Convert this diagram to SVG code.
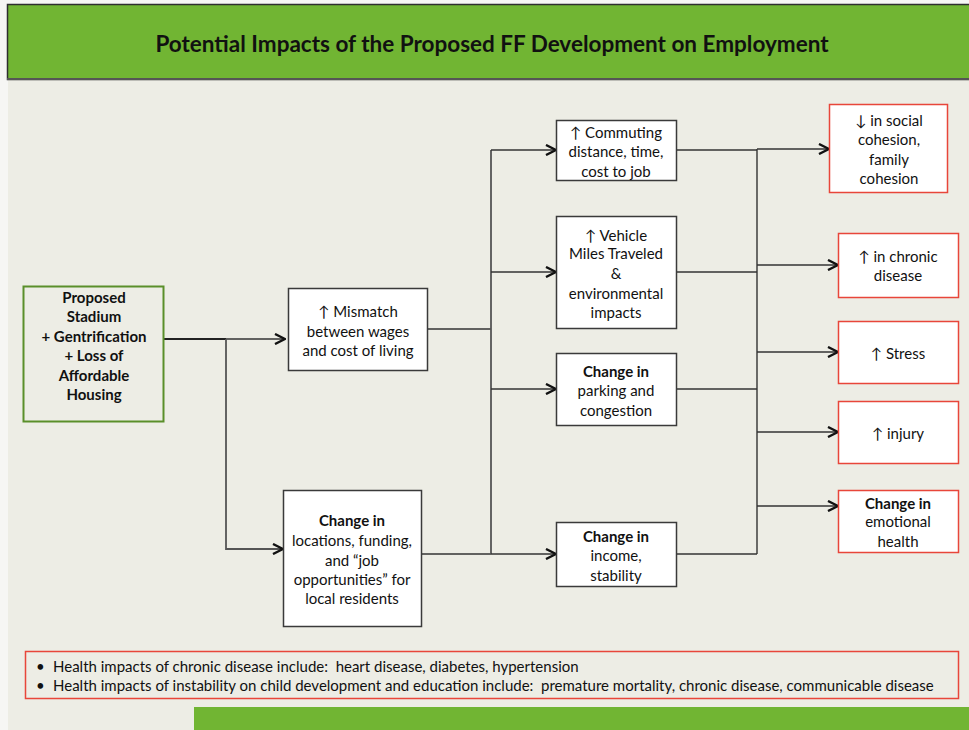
<svg xmlns="http://www.w3.org/2000/svg" width="969" height="730" viewBox="0 0 969 730">
  <defs>
    <marker id="chev" viewBox="0 0 12 12" refX="11" refY="6" markerWidth="12" markerHeight="12" markerUnits="userSpaceOnUse" orient="auto">
      <path d="M1,1 L11,6 L1,11" fill="none" stroke="#111" stroke-width="2.4" stroke-linejoin="miter"/>
    </marker>
  </defs>
  <style>
    text { font-family: Lato, "Open Sans", "Liberation Sans", sans-serif; fill: #111; }
    .t { font-size: 15px; text-anchor: middle; }
    .b { font-weight: bold; }
    .box { fill: #ffffff; stroke: #3a3a3a; stroke-width: 1.5; }
    .hbox { fill: #ffffff; stroke: #e8463a; stroke-width: 1.5; }
    .wire { fill: none; stroke: #333; stroke-width: 1.4; }
    .arrow { marker-end: url(#chev); }
    .note { font-size: 15px; }
  </style>

  <!-- page -->
  <rect x="0" y="0" width="969" height="730" fill="#f6f6f4"/>
  <rect x="8" y="80" width="961" height="650" fill="#ededE5"/>

  <!-- title band -->
  <rect x="7.5" y="4.5" width="970" height="75" fill="#71b533" stroke="#2e2e2e" stroke-width="1.5"/>
  <line x1="7" y1="79" x2="969" y2="79" stroke="#555" stroke-width="2"/>
  <text x="492" y="52" style="font-size:22.5px;font-weight:bold;text-anchor:middle">Potential Impacts of the Proposed FF Development on Employment</text>

  <!-- connectors -->
  <g id="connectors">
    <path class="wire" d="M164,339 H226" style="stroke:#222;stroke-width:2"/>
    <path class="wire arrow" d="M226,339 H285"/>
    <path class="wire arrow" d="M226,339 V549 H283" style="stroke:#555;stroke-width:1.8"/>
    <path class="wire" d="M428,329 H491"/>
    <path class="wire" d="M422,554 H491"/>
    <path class="wire" d="M491,150 V554" style="stroke:#555;stroke-width:1.8"/>
    <path class="wire arrow" d="M491,150 H556"/>
    <path class="wire arrow" d="M491,272 H556"/>
    <path class="wire arrow" d="M491,389 H556"/>
    <path class="wire arrow" d="M491,554 H556"/>
    <path class="wire" d="M677,150 H757"/>
    <path class="wire" d="M677,272 H757"/>
    <path class="wire" d="M677,389 H757"/>
    <path class="wire" d="M677,554 H757"/>
    <path class="wire" d="M757,149 V554"/>
    <path class="wire arrow" d="M757,149 H829"/>
    <path class="wire arrow" d="M757,265 H838"/>
    <path class="wire arrow" d="M757,352 H838"/>
    <path class="wire arrow" d="M757,432 H838"/>
    <path class="wire arrow" d="M757,506 H838"/>
  </g>

  <!-- source -->
  <g id="source">
    <rect x="23.5" y="286.5" width="140" height="135" fill="#ededE5" stroke="#5a8f2a" stroke-width="2"/>
    <text class="t b" x="94" y="303">Proposed</text>
    <text class="t b" x="94" y="322">Stadium</text>
    <text class="t b" x="94" y="342">+ Gentrification</text>
    <text class="t b" x="94" y="361">+ Loss of</text>
    <text class="t b" x="94" y="381">Affordable</text>
    <text class="t b" x="94" y="400">Housing</text>
  </g>

  <g id="mismatch">
    <rect class="box" x="288.5" y="288.5" width="139" height="82"/>
    <text class="t" x="358" y="317">↑ Mismatch</text>
    <text class="t" x="358" y="337">between wages</text>
    <text class="t" x="358" y="356">and cost of living</text>
  </g>

  <g id="jobs">
    <rect class="box" x="283.5" y="490.5" width="138" height="136"/>
    <text class="t b" x="352" y="526">Change in</text>
    <text class="t" x="352" y="546">locations, funding,</text>
    <text class="t" x="352" y="566">and “job</text>
    <text class="t" x="352" y="585">opportunities” for</text>
    <text class="t" x="352" y="604">local residents</text>
  </g>

  <g id="commuting">
    <rect class="box" x="556.5" y="120.5" width="120" height="60"/>
    <text class="t" x="616" y="138">↑ Commuting</text>
    <text class="t" x="616" y="157">distance, time,</text>
    <text class="t" x="616" y="177">cost to job</text>
  </g>

  <g id="vmt">
    <rect class="box" x="556.5" y="216.5" width="120" height="112"/>
    <text class="t" x="616" y="241">↑ Vehicle</text>
    <text class="t" x="616" y="259">Miles Traveled</text>
    <text class="t" x="616" y="279">&amp;</text>
    <text class="t" x="616" y="299">environmental</text>
    <text class="t" x="616" y="318">impacts</text>
  </g>

  <g id="parking">
    <rect class="box" x="556.5" y="353.5" width="120" height="72"/>
    <text class="t b" x="616" y="377">Change in</text>
    <text class="t" x="616" y="396">parking and</text>
    <text class="t" x="616" y="416">congestion</text>
  </g>

  <g id="income">
    <rect class="box" x="556.5" y="522.5" width="120" height="64"/>
    <text class="t b" x="616" y="542">Change in</text>
    <text class="t" x="616" y="561">income,</text>
    <text class="t" x="616" y="581">stability</text>
  </g>

  <g id="cohesion">
    <rect class="hbox" x="829.5" y="104.5" width="118" height="88"/>
    <text class="t" x="889" y="126">↓ in social</text>
    <text class="t" x="889" y="145">cohesion,</text>
    <text class="t" x="889" y="165">family</text>
    <text class="t" x="889" y="184">cohesion</text>
  </g>

  <g id="chronic">
    <rect class="hbox" x="838.5" y="233.5" width="120" height="64"/>
    <text class="t" x="898" y="262">↑ in chronic</text>
    <text class="t" x="898" y="281">disease</text>
  </g>

  <g id="stress">
    <rect class="hbox" x="838.5" y="321.5" width="120" height="62"/>
    <text class="t" x="898" y="359">↑ Stress</text>
  </g>

  <g id="injury">
    <rect class="hbox" x="838.5" y="401.5" width="120" height="62"/>
    <text class="t" x="898" y="439">↑ injury</text>
  </g>

  <g id="emotional">
    <rect class="hbox" x="838.5" y="490.5" width="120" height="62"/>
    <text class="t b" x="898" y="509">Change in</text>
    <text class="t" x="898" y="527">emotional</text>
    <text class="t" x="898" y="547">health</text>
  </g>

  <!-- notes -->
  <g id="notes">
    <rect x="25.5" y="651.5" width="933" height="47" fill="#ededE5" stroke="#e8463a" stroke-width="1.5"/>
    <text class="note" x="36" y="672">•</text>
    <text class="note" x="53" y="672" xml:space="preserve">Health impacts of chronic disease include:  heart disease, diabetes, hypertension</text>
    <text class="note" x="36" y="691">•</text>
    <text class="note" x="53" y="691" xml:space="preserve">Health impacts of instability on child development and education include:  premature mortality, chronic disease, communicable disease</text>
  </g>

  <!-- footer band -->
  <rect x="194" y="707" width="775" height="23" fill="#71b533"/>
</svg>
